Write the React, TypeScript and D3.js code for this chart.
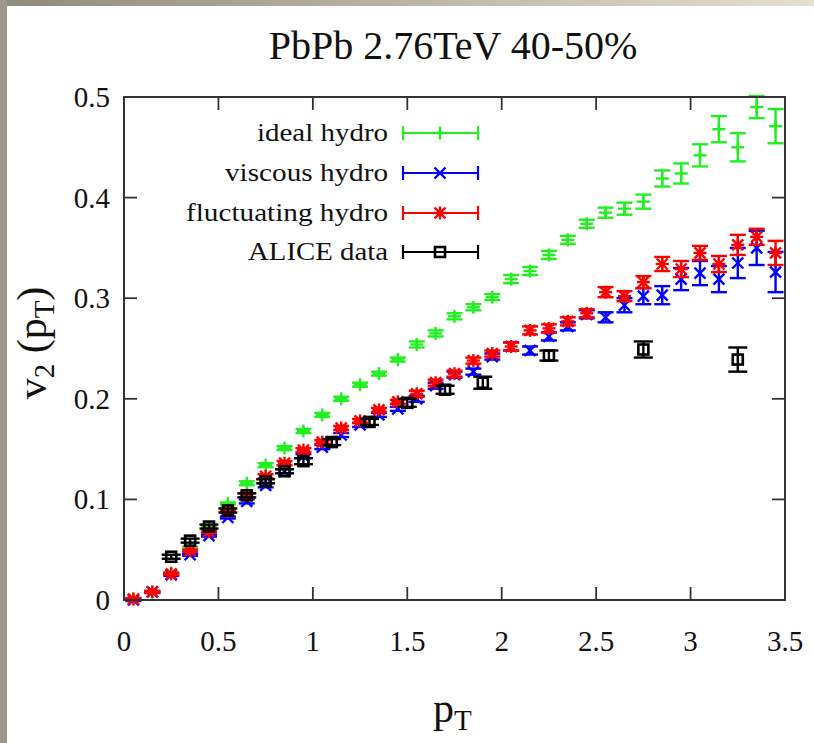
import * as d3 from 'd3'
import React from 'react'

// model grid (GeV)
const pT = [0.05, 0.15, 0.25, 0.35, 0.45, 0.55, 0.65, 0.75, 0.85, 0.95,
  1.05, 1.15, 1.25, 1.35, 1.45, 1.55, 1.65, 1.75, 1.85, 1.95,
  2.05, 2.15, 2.25, 2.35, 2.45, 2.55, 2.65, 2.75, 2.85, 2.95,
  3.05, 3.15, 3.25, 3.35, 3.45]

const idealV2 = [0.001, 0.008, 0.027, 0.052, 0.072, 0.096, 0.116, 0.134, 0.151, 0.168,
  0.184, 0.200, 0.214, 0.225, 0.239, 0.254, 0.265, 0.282, 0.291, 0.301,
  0.319, 0.327, 0.343, 0.358, 0.374, 0.385, 0.389, 0.396, 0.419, 0.424,
  0.442, 0.468, 0.450, 0.490, 0.471]
const idealErr = [0.001, 0.001, 0.001, 0.001, 0.001, 0.001, 0.002, 0.002, 0.002, 0.002,
  0.002, 0.002, 0.002, 0.002, 0.002, 0.003, 0.003, 0.003, 0.003, 0.003,
  0.004, 0.004, 0.004, 0.004, 0.004, 0.005, 0.006, 0.007, 0.008, 0.010,
  0.011, 0.013, 0.014, 0.011, 0.017]

const viscousV2 = [0.000, 0.008, 0.025, 0.045, 0.064, 0.082, 0.098, 0.114, 0.128, 0.143,
  0.152, 0.164, 0.174, 0.184, 0.190, 0.200, 0.213, 0.224, 0.227, 0.242,
  0.252, 0.248, 0.262, 0.272, 0.284, 0.281, 0.293, 0.302, 0.303, 0.319,
  0.325, 0.319, 0.335, 0.350, 0.326]
const viscousErr = [0.001, 0.001, 0.001, 0.001, 0.001, 0.001, 0.002, 0.002, 0.002, 0.002,
  0.002, 0.002, 0.002, 0.002, 0.002, 0.003, 0.003, 0.003, 0.003, 0.003,
  0.004, 0.004, 0.004, 0.004, 0.004, 0.005, 0.007, 0.008, 0.009, 0.011,
  0.012, 0.013, 0.015, 0.017, 0.020]

const fluctV2 = [0.001, 0.008, 0.026, 0.049, 0.068, 0.088, 0.104, 0.123, 0.136, 0.149,
  0.157, 0.171, 0.178, 0.189, 0.197, 0.205, 0.216, 0.225, 0.238, 0.245,
  0.252, 0.268, 0.270, 0.277, 0.285, 0.306, 0.302, 0.316, 0.334, 0.329,
  0.345, 0.334, 0.353, 0.361, 0.345]
const fluctErr = [0.001, 0.001, 0.001, 0.001, 0.001, 0.001, 0.002, 0.002, 0.002, 0.002,
  0.002, 0.002, 0.002, 0.002, 0.002, 0.003, 0.003, 0.003, 0.003, 0.003,
  0.004, 0.004, 0.004, 0.004, 0.004, 0.005, 0.005, 0.006, 0.007, 0.008,
  0.007, 0.008, 0.010, 0.008, 0.012]

const aliceP = [0.25, 0.35, 0.45, 0.55, 0.65, 0.75, 0.85, 0.95, 1.1, 1.3, 1.5, 1.7, 1.9, 2.25, 2.75, 3.25]
const aliceV2 = [0.043, 0.059, 0.073, 0.089, 0.104, 0.118, 0.128, 0.138, 0.157, 0.177, 0.196, 0.209, 0.216, 0.243, 0.249, 0.239]
const aliceErr = [0.002, 0.002, 0.002, 0.002, 0.002, 0.002, 0.002, 0.003, 0.003, 0.003, 0.004, 0.004, 0.006, 0.005, 0.008, 0.012]

const xTicks = [0, 0.5, 1, 1.5, 2, 2.5, 3, 3.5]
const yTicks = [0, 0.1, 0.2, 0.3, 0.4, 0.5]
const xTickLabels = ['0', '0.5', '1', '1.5', '2', '2.5', '3', '3.5']
const yTickLabels = ['0', '0.1', '0.2', '0.3', '0.4', '0.5']

const legendLabels = ['ideal hydro', 'viscous hydro', 'fluctuating hydro', 'ALICE data']
const legendWidths = [131, 163, 202, 140]

const FONT = "'Liberation Serif', 'Times New Roman', serif"

export default function App() {
  const ref = React.useRef<SVGSVGElement>(null)

  React.useEffect(() => {
    const width = 814, height = 743
    const svg = d3.select(ref.current)
    svg.selectAll('*').remove()

    const x = d3.scaleLinear().domain([0, 3.5]).range([124, 785])
    const y = d3.scaleLinear().domain([0, 0.5]).range([600, 97])

    // slide frame
    const defs = svg.append('defs')
    const grad = defs.append('linearGradient').attr('id', 'topbar')
    grad.append('stop').attr('offset', '0%').attr('stop-color', '#8e8b7d')
    grad.append('stop').attr('offset', '100%').attr('stop-color', '#e4e0cf')
    defs.append('filter').attr('id', 'soft')
      .append('feGaussianBlur').attr('stdDeviation', 0.5)
    svg.append('rect').attr('width', width).attr('height', height).attr('fill', '#fff')
    svg.append('rect').attr('x', 0).attr('y', 0).attr('width', width).attr('height', 6).attr('fill', 'url(#topbar)')
    svg.append('rect').attr('x', 0).attr('y', 0).attr('width', 7).attr('height', height).attr('fill', '#9b988a')

    // title
    svg.append('text')
      .attr('x', 453).attr('y', 59)
      .attr('text-anchor', 'middle')
      .attr('font-family', FONT).attr('font-size', 40)
      .attr('fill', '#111')
      .text('PbPb 2.76TeV 40-50%')

    const axisColor = '#333'
    const tickLen = 13
    const [x0, x1] = x.range()
    const [y0, y1] = y.range()

    // ticks (mirrored on all sides)
    const tg = svg.append('g').attr('stroke', axisColor).attr('stroke-width', 1.8)
    xTicks.forEach(t => {
      tg.append('line').attr('x1', x(t)).attr('x2', x(t)).attr('y1', y0).attr('y2', y0 - tickLen)
      tg.append('line').attr('x1', x(t)).attr('x2', x(t)).attr('y1', y1).attr('y2', y1 + tickLen)
    })
    yTicks.forEach(t => {
      tg.append('line').attr('x1', x0).attr('x2', x0 + tickLen).attr('y1', y(t)).attr('y2', y(t))
      tg.append('line').attr('x1', x1).attr('x2', x1 - tickLen).attr('y1', y(t)).attr('y2', y(t))
    })

    // tick labels
    svg.append('g').selectAll('text').data(xTicks).enter().append('text')
      .attr('x', d => x(d)).attr('y', 651)
      .attr('text-anchor', 'middle')
      .attr('font-family', FONT).attr('font-size', 29).attr('fill', '#111')
      .text((d, i) => xTickLabels[i])
    svg.append('g').selectAll('text').data(yTicks).enter().append('text')
      .attr('x', 110).attr('y', d => y(d) + 10)
      .attr('text-anchor', 'end')
      .attr('font-family', FONT).attr('font-size', 29).attr('fill', '#111')
      .text((d, i) => yTickLabels[i])

    // axis labels
    const xl = svg.append('text')
      .attr('x', 433).attr('y', 722)
      .attr('font-family', FONT).attr('font-size', 42).attr('fill', '#111')
    xl.append('tspan').text('p')
    xl.append('tspan').attr('font-size', 29).attr('dy', 8).text('T')

    const yl = svg.append('text')
      .attr('transform', 'translate(46,343) rotate(-90)')
      .attr('text-anchor', 'middle')
      .attr('font-family', FONT).attr('font-size', 42).attr('fill', '#111')
    yl.append('tspan').text('v')
    yl.append('tspan').attr('font-size', 29).attr('dy', 8).text('2')
    yl.append('tspan').attr('dy', -8).text(' (p')
    yl.append('tspan').attr('font-size', 29).attr('dy', 8).text('T')
    yl.append('tspan').attr('dy', -8).text(')')

    function marker(g: any, cx: number, cy: number, type: string, color: string) {
      const s = 6.5, d = 5.5
      const m = g.append('g').attr('stroke', color).attr('stroke-width', 2.4).attr('fill', 'none')
      if (type === 'plus' || type === 'star') {
        m.append('line').attr('x1', cx - s).attr('x2', cx + s).attr('y1', cy).attr('y2', cy)
        m.append('line').attr('x1', cx).attr('x2', cx).attr('y1', cy - s).attr('y2', cy + s)
      }
      if (type === 'cross' || type === 'star') {
        m.append('line').attr('x1', cx - d).attr('x2', cx + d).attr('y1', cy - d).attr('y2', cy + d)
        m.append('line').attr('x1', cx - d).attr('x2', cx + d).attr('y1', cy + d).attr('y2', cy - d)
      }
      if (type === 'square') {
        m.append('rect').attr('x', cx - 5).attr('y', cy - 5).attr('width', 10).attr('height', 10)
          .attr('stroke-width', 2.6)
      }
    }

    const series = [
      { xs: pT, ys: idealV2, err: idealErr, color: '#22ee22', type: 'plus', cap: 8 },
      { xs: pT, ys: viscousV2, err: viscousErr, color: '#0000ff', type: 'cross', cap: 8 },
      { xs: pT, ys: fluctV2, err: fluctErr, color: '#ff0000', type: 'star', cap: 8 },
      { xs: aliceP, ys: aliceV2, err: aliceErr, color: '#000000', type: 'square', cap: 9.5 },
    ]

    const plot = svg.append('g').attr('filter', 'url(#soft)')
    series.forEach(s => {
      const g = plot.append('g')
      s.xs.forEach((px, i) => {
        const cx = x(px), cy = y(s.ys[i])
        const top = y(s.ys[i] + s.err[i]), bot = y(s.ys[i] - s.err[i])
        const eb = g.append('g').attr('stroke', s.color).attr('stroke-width', 2.4)
        eb.append('line').attr('x1', cx).attr('x2', cx).attr('y1', top).attr('y2', bot)
        eb.append('line').attr('x1', cx - s.cap).attr('x2', cx + s.cap).attr('y1', top).attr('y2', top)
        eb.append('line').attr('x1', cx - s.cap).attr('x2', cx + s.cap).attr('y1', bot).attr('y2', bot)
        marker(g, cx, cy, s.type, s.color)
      })
    })

    // legend
    const legRows = [133, 173, 213, 252]
    series.forEach((s, i) => {
      const ly = legRows[i]
      svg.append('text')
        .attr('x', 388).attr('y', ly + 8)
        .attr('text-anchor', 'end')
        .attr('font-family', FONT).attr('font-size', 25).attr('fill', '#111')
        .attr('textLength', legendWidths[i]).attr('lengthAdjust', 'spacingAndGlyphs')
        .text(legendLabels[i])
      const lg = svg.append('g').attr('stroke', s.color).attr('stroke-width', 2.2)
      lg.append('line').attr('x1', 403).attr('x2', 478).attr('y1', ly).attr('y2', ly)
      lg.append('line').attr('x1', 403).attr('x2', 403).attr('y1', ly - 7).attr('y2', ly + 7)
      lg.append('line').attr('x1', 478).attr('x2', 478).attr('y1', ly - 7).attr('y2', ly + 7)
      marker(svg, 440, ly, s.type, s.color)
    })

    // frame
    svg.append('rect')
      .attr('x', x0).attr('y', y1)
      .attr('width', x1 - x0).attr('height', y0 - y1)
      .attr('fill', 'none').attr('stroke', axisColor).attr('stroke-width', 2)
  })

  return (
    <svg ref={ref} width={814} height={743}
      style={{ position: 'absolute', left: 0, top: 0, display: 'block' }} />
  )
}
